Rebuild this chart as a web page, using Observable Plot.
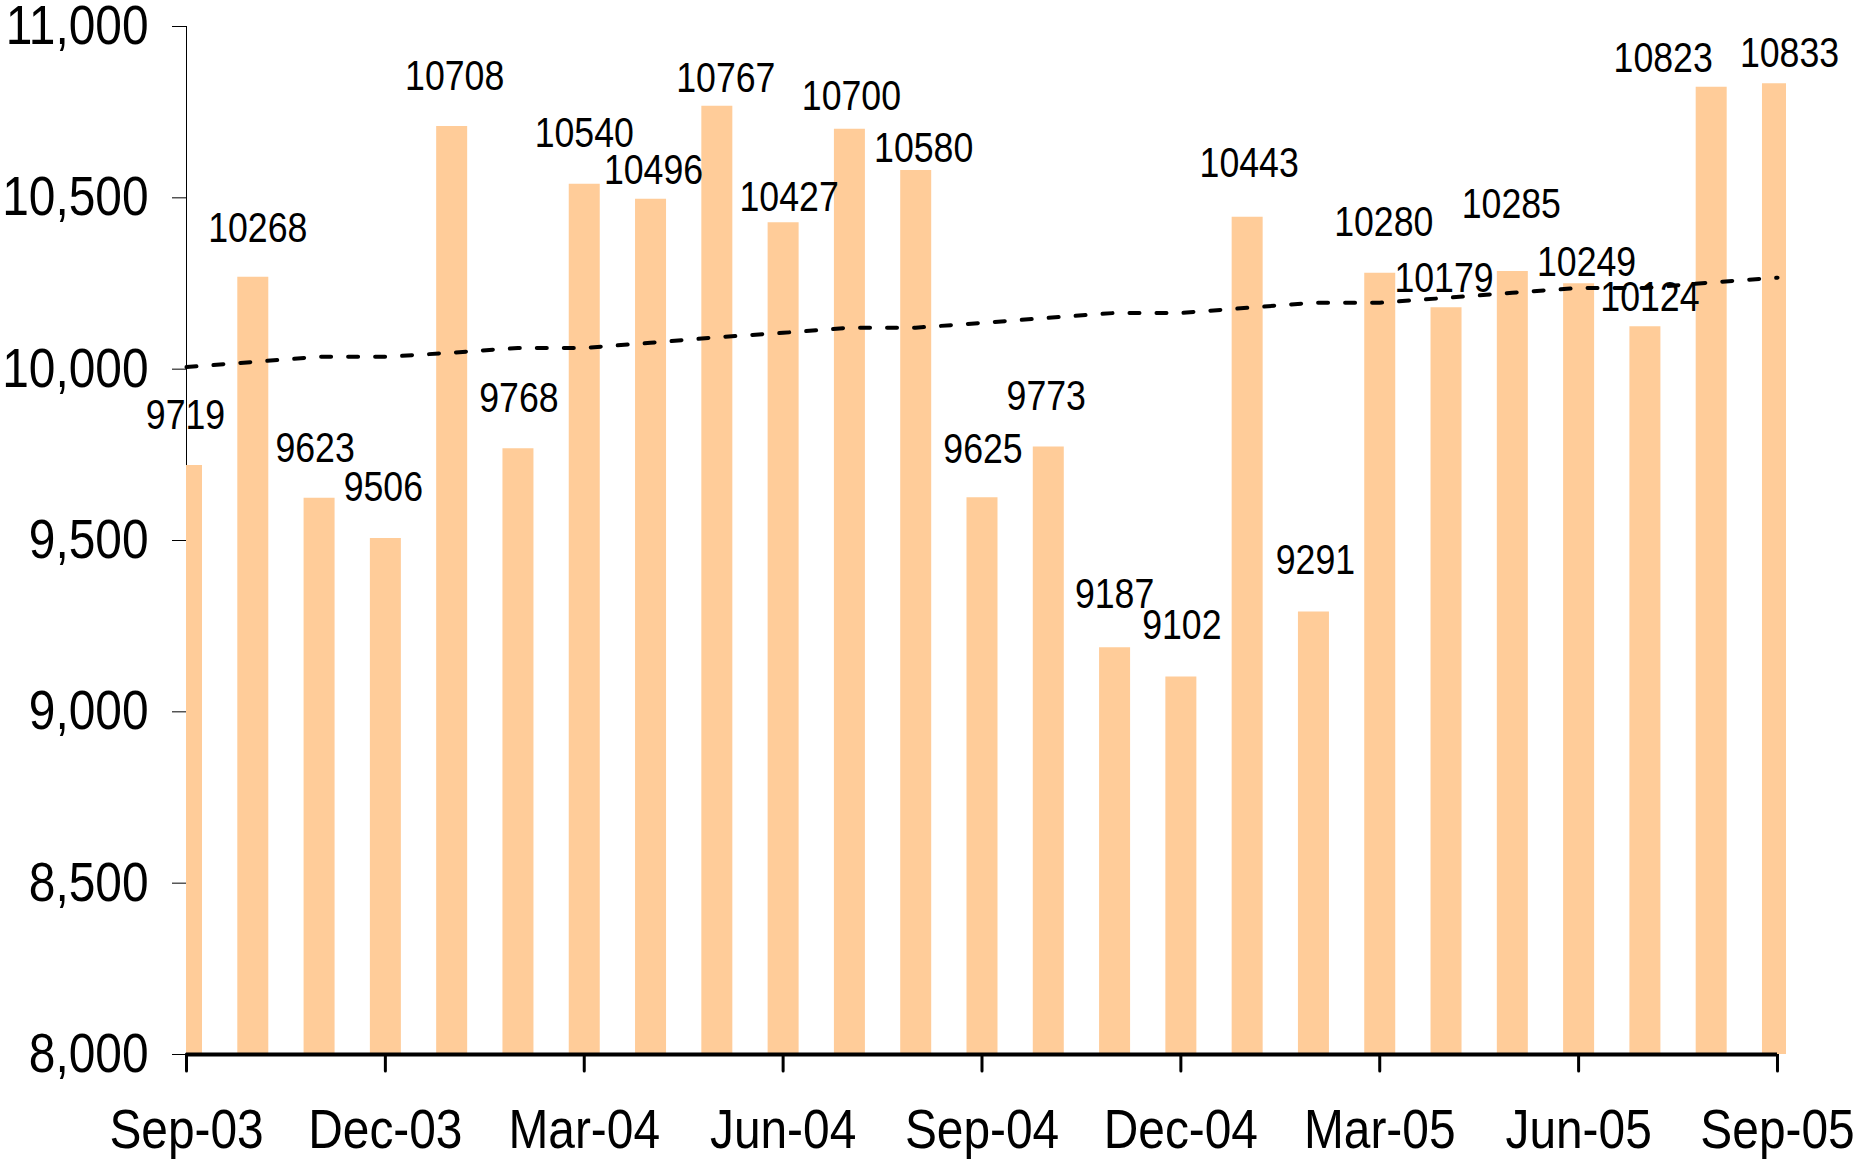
<!DOCTYPE html>
<html>
<head>
<meta charset="utf-8">
<script src="https://cdn.jsdelivr.net/npm/d3@7"></script>
<script src="https://cdn.jsdelivr.net/npm/@observablehq/plot@0.6"></script>
<style>
html, body { margin: 0; padding: 0; background: #fff; overflow: hidden; }
#chart svg { display: block; }
g[aria-label="x-axis tick"] path, g[aria-label="x-axis"] .tick line { stroke-width: 3px; stroke-linecap: round; }
g[aria-label="x-axis"] path.domain { display: none; }
</style>
</head>
<body>
<div id="chart"></div>
<script>
// ---- data ----
const months = ["Sep-03","Oct-03","Nov-03","Dec-03","Jan-04","Feb-04","Mar-04","Apr-04","May-04","Jun-04","Jul-04","Aug-04",
                "Sep-04","Oct-04","Nov-04","Dec-04","Jan-05","Feb-05","Mar-05","Apr-05","May-05","Jun-05","Jul-05","Aug-05","Sep-05"];
const values = [9719,10268,9623,9506,10708,9768,10540,10496,10767,10427,10700,10580,
                9625,9773,9187,9102,10443,9291,10280,10179,10285,10249,10124,10823,10833];
const trend = [10006,10021,10036,10036,10048,10062,10062,10077,10093,10106,10121,10121,
               10135,10150,10164,10164,10179,10194,10194,10208,10223,10237,10237,10253,10267];
const tickLabels = ["Sep-03","Dec-03","Mar-04","Jun-04","Sep-04","Dec-04","Mar-05","Jun-05","Sep-05"];
const yTicks = [8000,8500,9000,9500,10000,10500,11000];

// ---- layout: value-label nudges in pixels (dx, dy from bar top) ----
const labelDx = [-1,5,-4,-2,3,1,0,3,9,6,2,8,1,-2,0,1,2,2,4,-2,-1,8,5,-48,12];
const labelDy = [-36,-35,-36,-37,-37,-37,-37,-15,-14,-12,-19,-8,-35,-37,-40,-38,-40,-38,-37,-16,-54,-8,-16,-15,-17];

const rows = months.map((m, i) => ({i, month: m, value: values[i], trend: trend[i]}));
const tickIdx = tickLabels.map(t => months.indexOf(t));
const last = months.length - 1;

const chart = Plot.plot({
  width: 1858,
  height: 1159,
  marginLeft: 186,
  marginRight: 72,
  marginTop: 26,
  marginBottom: 105,
  style: {fontFamily: "'Liberation Sans', Arial, sans-serif", fontSize: "55px", color: "black", background: "white"},
  x: {type: "linear", domain: [0, last + 0.136], ticks: tickIdx, tickFormat: i => months[i], tickSize: 17, tickPadding: 37, label: null},
  y: {domain: [yTicks[0], yTicks[yTicks.length - 1]], ticks: yTicks, tickFormat: d3.format(","), tickSize: 14, tickPadding: 24, line: true, label: null},
  marks: [
    Plot.ruleX(rows, {x: "i", y1: yTicks[0], y2: "value", stroke: "#FFCC99", strokeWidth: 31, clip: true}),
    Plot.ruleY([yTicks[0]], {x1: 0, x2: last, stroke: "black", strokeWidth: 4}),
    ...rows.map(r => Plot.text([r], {
      x: "i", y: "value", text: d => String(d.value),
      dx: labelDx[r.i], dy: labelDy[r.i],
      lineAnchor: "bottom", fontSize: 43, fill: "black"
    })),
    Plot.line(rows, {x: "i", y: "trend", stroke: "black", strokeWidth: 4, strokeDasharray: "10,17"})
  ]
});

// condense texts horizontally (the reference glyphs are taller than wide)
function condense(t, s) {
  const xa = t.getAttribute("x");
  let x = 0;
  if (xa !== null && xa !== "" && !isNaN(+xa)) { x = +xa; t.removeAttribute("x"); }
  const tr = t.getAttribute("transform") || "";
  t.setAttribute("transform", `${tr} translate(${x},0) scale(${s},1)`);
}
const valueTexts = new Set(chart.querySelectorAll('g[aria-label="text"] text'));
chart.querySelectorAll("text").forEach(t => condense(t, valueTexts.has(t) ? 0.83 : 0.87));

document.getElementById("chart").appendChild(chart);
</script>
</body>
</html>
